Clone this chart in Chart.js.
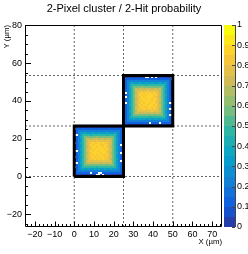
<!DOCTYPE html>
<html>
<head>
<meta charset="utf-8">
<script src="https://cdn.jsdelivr.net/npm/chart.js@4.4.0/dist/chart.umd.min.js"></script>
<style>
  html, body { margin: 0; padding: 0; background: #fff; }
  #wrap { width: 248px; height: 254px; }
</style>
</head>
<body>
<div id="wrap"><canvas id="c"></canvas></div>
<script>
// axis ranges and ticks (µm)
const xRange = [-25, 75];
const yRange = [-26.75, 80.25];
const xTicks = [-20, -10, 0, 10, 20, 30, 40, 50, 60, 70];
const yTicks = [-20, 0, 20, 40, 60, 80];
const zTicks = [0, 0.1, 0.2, 0.3, 0.4, 0.5, 0.6, 0.7, 0.8, 0.9, 1];

// pixel pitch and the two pixels of the cluster
const pitch = [25, 26.75];
const gridX = [0, 25, 50];
const gridY = [0, 26.75, 53.5];
const boxOrigins = [[0, 0], [25, 26.75]];

// 2-hit probability in percent, rows listed top to bottom
const lowerPixel = [
  [4,3,5,3,4,2,3,5,4,3,6,4,3,5,2,4,3,5,3,4,3,2,4,3,5],
  [0,12,13,11,12,14,12,11,13,12,12,14,11,12,13,12,11,12,14,12,13,11,12,13,3],
  [3,11,22,23,21,22,24,22,21,23,22,20,22,23,21,22,24,22,21,23,22,21,23,12,4],
  [5,13,22,34,33,35,34,32,34,36,33,34,35,33,34,32,35,34,33,34,36,33,21,12,3],
  [0,0,21,33,46,45,47,46,44,46,48,45,46,47,45,46,44,47,46,45,46,34,22,13,0],
  [4,12,23,35,45,58,57,59,58,56,58,60,57,58,59,57,58,56,59,58,47,33,22,11,4],
  [3,13,22,34,46,57,70,71,69,70,72,70,69,71,70,68,71,70,69,57,46,35,23,12,5],
  [3,11,21,33,47,59,69,78,79,77,78,80,78,77,79,78,77,79,70,58,45,34,22,12,3],
  [0,12,22,35,45,58,71,78,84,85,83,84,86,84,85,83,84,79,71,59,46,33,21,13,4],
  [4,12,23,34,46,57,70,77,85,84,86,88,85,84,83,85,84,78,70,58,47,34,22,0,0],
  [3,13,22,33,45,59,69,79,84,86,85,84,89,86,84,85,83,77,69,57,46,35,23,12,3],
  [5,12,21,35,47,58,70,78,83,85,84,88,86,85,88,84,85,78,71,58,45,33,22,11,4],
  [0,0,22,34,46,57,71,77,85,84,86,85,84,89,86,85,84,79,70,59,46,34,21,13,3],
  [3,12,23,33,45,58,69,78,84,85,88,86,85,84,85,86,84,78,69,57,47,35,22,0,0],
  [4,13,22,35,46,59,70,79,85,84,85,84,86,85,84,83,85,77,71,58,45,33,23,12,4],
  [0,12,21,34,47,57,71,78,83,85,84,86,84,85,86,84,84,78,70,59,46,34,22,11,3],
  [3,11,22,33,45,58,69,77,84,84,85,83,85,84,85,84,83,79,69,58,47,35,21,12,4],
  [4,12,23,34,46,59,70,78,77,79,78,77,79,78,78,77,79,78,70,57,46,33,22,0,0],
  [0,0,22,35,45,57,69,70,71,69,70,71,70,69,71,70,69,70,71,58,45,34,23,12,3],
  [3,12,21,33,47,58,57,59,58,57,58,56,59,58,57,59,58,57,58,59,46,35,22,11,4],
  [0,11,22,34,46,45,47,46,45,47,46,44,46,45,47,46,45,47,46,45,47,34,21,12,3],
  [4,12,23,33,35,34,33,35,34,33,35,34,36,33,34,35,33,34,35,33,34,33,22,13,5],
  [3,13,22,21,23,22,24,21,22,23,21,22,23,22,21,23,22,24,22,21,23,22,21,12,0],
  [5,12,11,13,12,12,14,11,0,12,13,12,0,0,12,11,13,12,12,14,11,12,13,12,3],
  [4,3,5,3,4,2,3,5,4,3,6,0,0,5,0,4,3,5,3,4,3,2,4,3,5]
];
const upperPixel = [
  [3,4,2,5,3,4,3,5,4,3,4,0,0,3,0,5,0,4,3,5,3,4,2,3,0],
  [4,12,11,13,12,14,12,13,11,12,13,12,11,14,12,12,13,11,12,13,12,14,11,12,0],
  [3,12,22,21,23,22,21,24,22,23,21,22,23,22,24,21,22,23,22,21,22,23,21,13,4],
  [5,11,23,34,35,33,34,32,35,34,33,36,34,33,35,34,32,34,35,33,34,35,22,12,3],
  [3,13,22,33,46,47,45,46,48,45,46,44,47,46,45,47,46,45,46,47,45,34,23,12,5],
  [4,12,21,35,45,58,59,57,58,60,58,57,59,56,58,57,59,58,57,58,46,33,22,13,3],
  [3,12,22,34,47,57,70,69,71,70,69,72,70,71,69,70,71,69,70,59,45,35,21,12,4],
  [5,13,23,33,46,59,71,78,77,79,78,77,80,78,79,77,78,79,69,57,46,34,22,11,3],
  [0,0,22,35,45,58,69,79,84,85,84,86,83,85,84,85,84,78,71,58,47,33,23,12,4],
  [3,11,21,34,46,57,70,77,85,84,85,84,86,85,88,84,85,77,70,59,45,35,22,13,3],
  [0,0,23,33,47,59,71,78,84,86,84,85,88,86,85,84,83,79,69,57,46,34,21,12,5],
  [4,13,22,35,45,58,69,77,83,85,86,84,85,89,84,86,85,78,71,58,47,33,22,12,3],
  [3,12,21,34,46,57,70,79,85,84,85,88,86,85,84,85,84,77,70,59,45,34,23,11,4],
  [0,0,22,33,47,58,71,78,84,85,84,86,89,84,86,85,84,78,69,57,46,35,22,0,0],
  [4,12,23,35,45,59,69,77,85,84,86,85,84,85,88,84,85,79,70,58,47,33,21,13,3],
  [3,13,22,34,46,57,70,78,84,85,84,84,85,86,84,85,83,78,71,59,45,34,22,12,4],
  [0,12,21,33,47,58,71,77,83,84,85,83,84,85,84,83,84,77,69,57,46,35,23,0,0],
  [4,11,22,35,45,59,69,78,79,77,78,79,77,78,80,78,77,78,70,58,47,33,22,11,3],
  [3,12,23,34,46,57,70,71,69,70,71,70,69,70,71,69,70,71,69,59,45,34,21,12,4],
  [5,13,22,33,47,58,57,59,58,56,58,59,57,58,59,57,58,56,58,57,46,35,22,0,0],
  [3,12,21,35,45,47,46,45,47,46,45,47,46,44,46,47,45,46,47,45,46,33,23,12,4],
  [4,11,22,34,33,35,34,33,35,34,36,33,34,35,33,34,35,33,34,36,33,34,22,12,3],
  [3,12,23,22,21,23,22,21,24,22,23,21,22,23,22,21,23,22,21,22,24,22,21,13,5],
  [5,13,12,11,13,12,14,12,11,13,12,12,14,0,12,13,11,12,0,12,13,11,12,12,3],
  [3,4,5,3,4,2,3,5,3,4,3,5,4,3,4,2,5,3,4,3,5,4,3,4,3]
];
const pixelMaps = [lowerPixel, upperPixel];

// ROOT kBird palette
const birdStops = [0, 0.125, 0.25, 0.375, 0.5, 0.625, 0.75, 0.875, 1];
const birdRed = [0.2082, 0.0592, 0.0780, 0.0232, 0.1802, 0.5301, 0.8186, 0.9956, 0.9764];
const birdGreen = [0.1664, 0.3599, 0.5041, 0.6419, 0.7178, 0.7492, 0.7328, 0.7862, 0.9832];
const birdBlue = [0.5293, 0.8684, 0.8385, 0.7914, 0.6425, 0.4662, 0.3499, 0.1968, 0.0539];
const nBands = 20;

function birdColor(t) {
  t = Math.max(0, Math.min(1, t));
  let i = 0;
  while (i < birdStops.length - 2 && t > birdStops[i + 1]) i++;
  const f = (t - birdStops[i]) / (birdStops[i + 1] - birdStops[i]);
  const c = (arr) => Math.round(255 * (arr[i] + f * (arr[i + 1] - arr[i])));
  return "rgb(" + c(birdRed) + "," + c(birdGreen) + "," + c(birdBlue) + ")";
}

function bandColor(v) {
  const k = Math.min(nBands - 1, Math.floor(v * nBands));
  return birdColor((k + 1) / nBands);
}

function minusLabel(v) {
  return v < 0 ? "\u2212" + Math.abs(v) : String(v);
}

Chart.defaults.font.family = "'Liberation Sans', Arial, sans-serif";
Chart.defaults.color = "#000";

// heat map cells, drawn below the datasets
const cellsPlugin = {
  id: "cells",
  beforeDatasetsDraw(chart) {
    const { ctx, scales: { x, y } } = chart;
    ctx.save();
    pixelMaps.forEach((map, b) => {
      const [ox, oy] = boxOrigins[b];
      const rows = map.length;
      const cols = map[0].length;
      const bw = pitch[0] / cols;
      const bh = pitch[1] / rows;
      map.forEach((row, i) => {
        const yi = rows - 1 - i;
        row.forEach((v, j) => {
          if (!v) return;
          const x0 = Math.round(x.getPixelForValue(ox + j * bw));
          const x1 = Math.round(x.getPixelForValue(ox + (j + 1) * bw));
          const y0 = Math.round(y.getPixelForValue(oy + yi * bh));
          const y1 = Math.round(y.getPixelForValue(oy + (yi + 1) * bh));
          ctx.fillStyle = bandColor(v / 100);
          ctx.fillRect(x0, y1, x1 - x0, y0 - y1);
        });
      });
    });
    ctx.restore();
  }
};

// frame, inward ticks and the colour bar
const framePlugin = {
  id: "frame",
  afterDatasetsDraw(chart) {
    const { ctx, chartArea: a, scales: { x, y, z } } = chart;
    ctx.save();
    ctx.strokeStyle = "#000";
    ctx.lineWidth = 1;
    ctx.beginPath();
    ctx.rect(a.left + 0.5, a.top + 0.5, a.right - a.left - 1, a.bottom - a.top - 1);
    ctx.stroke();

    ctx.beginPath();
    for (let v = -24; v <= 74; v += 2) {
      const px = Math.round(x.getPixelForValue(v)) + 0.5;
      const len = xTicks.includes(v) ? 5.5 : 3;
      ctx.moveTo(px, a.bottom);
      ctx.lineTo(px, a.bottom - len);
    }
    for (let v = -25; v <= 80; v += 5) {
      const py = Math.round(y.getPixelForValue(v)) + 0.5;
      const len = yTicks.includes(v) ? 6 : 3;
      ctx.moveTo(a.left, py);
      ctx.lineTo(a.left + len, py);
    }
    ctx.stroke();

    // colour bar
    const bx0 = a.right + 2;
    const bx1 = a.right + 13;
    for (let k = 0; k < nBands; k++) {
      const yb = Math.round(z.getPixelForValue(k / nBands));
      const yt = Math.round(z.getPixelForValue((k + 1) / nBands));
      ctx.fillStyle = bandColor((k + 0.5) / nBands);
      ctx.fillRect(bx0, yt, bx1 - bx0, yb - yt);
    }
    ctx.strokeStyle = "#444";
    ctx.beginPath();
    ctx.moveTo(bx1 + 0.5, a.top);
    ctx.lineTo(bx1 + 0.5, a.bottom);
    zTicks.forEach((v) => {
      const py = Math.round(z.getPixelForValue(v)) + 0.5;
      ctx.moveTo(bx1, py);
      ctx.lineTo(bx1 - 3, py);
    });
    ctx.stroke();
    ctx.restore();
  }
};

const gridSets = gridX.map((gx) => ({
  data: [{ x: gx, y: yRange[0] }, { x: gx, y: yRange[1] }]
})).concat(gridY.map((gy) => ({
  data: [{ x: xRange[0], y: gy }, { x: xRange[1], y: gy }]
}))).map((d) => Object.assign(d, {
  showLine: true,
  borderColor: "#666",
  borderWidth: 1,
  borderDash: [2, 2],
  pointRadius: 0,
  order: 2
}));

const boxSets = boxOrigins.map(([ox, oy]) => ({
  data: [
    { x: ox, y: oy },
    { x: ox + pitch[0], y: oy },
    { x: ox + pitch[0], y: oy + pitch[1] },
    { x: ox, y: oy + pitch[1] },
    { x: ox, y: oy }
  ],
  showLine: true,
  borderColor: "#000",
  borderWidth: 3,
  borderJoinStyle: "miter",
  pointRadius: 0,
  order: 1
}));

new Chart(document.getElementById("c"), {
  type: "scatter",
  data: { datasets: gridSets.concat(boxSets) },
  options: {
    responsive: true,
    maintainAspectRatio: false,
    animation: false,
    events: [],
    plugins: {
      legend: { display: false },
      tooltip: { enabled: false },
      title: {
        display: true,
        text: "2-Pixel cluster / 2-Hit probability",
        color: "#000",
        font: { size: 11, weight: "normal" },
        padding: { top: 2.5, bottom: 9.3 }
      }
    },
    scales: {
      x: {
        type: "linear",
        min: xRange[0],
        max: xRange[1],
        afterBuildTicks: (s) => { s.ticks = xTicks.map((v) => ({ value: v })); },
        afterFit: (s) => { s.height = 27; },
        grid: { display: false, drawTicks: false },
        border: { display: false },
        ticks: {
          autoSkip: false,
          maxRotation: 0,
          minRotation: 0,
          padding: 2,
          font: { size: 9 },
          callback: minusLabel
        },
        title: {
          display: true,
          text: "X (µm)",
          align: "end",
          font: { size: 7.8 },
          padding: { top: 0, bottom: 7 }
        }
      },
      y: {
        type: "linear",
        min: yRange[0],
        max: yRange[1],
        afterBuildTicks: (s) => { s.ticks = yTicks.map((v) => ({ value: v })); },
        afterFit: (s) => { s.width = 25; },
        grid: { display: false, drawTicks: false },
        border: { display: false },
        ticks: { padding: 3, font: { size: 9 }, callback: minusLabel },
        title: {
          display: true,
          text: "Y (µm)",
          align: "end",
          font: { size: 7.8 },
          padding: { top: 2, bottom: 0 }
        }
      },
      z: {
        type: "linear",
        position: "right",
        min: 0,
        max: 1,
        afterBuildTicks: (s) => { s.ticks = zTicks.map((v) => ({ value: v })); },
        afterFit: (s) => { s.width = 26; },
        grid: { display: false, drawTicks: false },
        border: { display: false },
        ticks: {
          padding: 15,
          font: { size: 9 },
          callback: (v) => String(+v.toFixed(1))
        }
      }
    }
  },
  plugins: [cellsPlugin, framePlugin]
});
</script>
</body>
</html>
